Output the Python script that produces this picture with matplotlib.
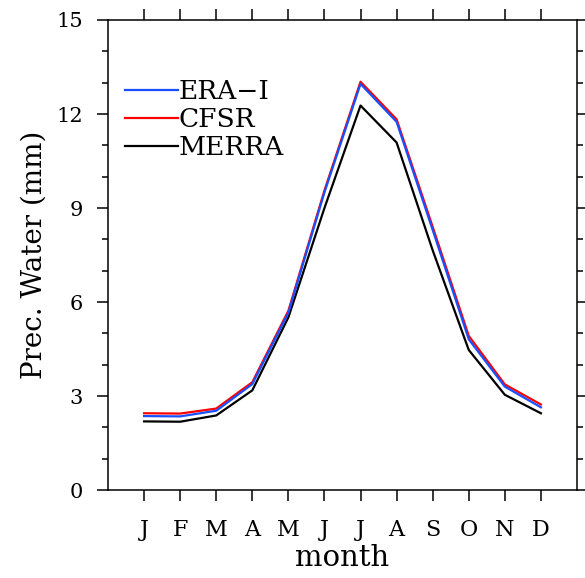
import numpy as np
import matplotlib
matplotlib.use("Agg")
import matplotlib.pyplot as plt
from matplotlib.ticker import MultipleLocator

months = ["J", "F", "M", "A", "M", "J", "J", "A", "S", "O", "N", "D"]
era_i = [2.36, 2.35, 2.53, 3.38, 5.66, 9.50, 12.96, 11.75, 8.30, 4.81, 3.30, 2.64]
cfsr = [2.45, 2.44, 2.60, 3.44, 5.72, 9.56, 13.03, 11.83, 8.40, 4.92, 3.37, 2.73]
merra = [2.19, 2.18, 2.38, 3.18, 5.51, 9.00, 12.27, 11.09, 7.65, 4.47, 3.04, 2.45]

plt.rcParams['font.family'] = ['DejaVu Serif']

fig = plt.figure(figsize=(5.85, 5.78), dpi=100)
ax = fig.add_axes([0.1846, 0.1522, 0.8017, 0.8132])

x = np.arange(1, 13)
ax.plot(x, era_i, color='#1a4fff', lw=1.6, label='ERA\u2212I', zorder=3)
ax.plot(x, cfsr, color='#ff0000', lw=1.6, label='CFSR', zorder=2)
ax.plot(x, merra, color='black', lw=1.6, label='MERRA', zorder=2)

ax.set_xlim(0, 13)
ax.set_ylim(0, 15)
ax.set_xticks(x)
ax.set_xticklabels(months)
ax.yaxis.set_major_locator(MultipleLocator(3))
ax.yaxis.set_minor_locator(MultipleLocator(1))

ax.tick_params(which='major', direction='out', length=8, width=1.1,
               top=True, right=True, labelsize=15, pad=10)
ax.tick_params(which='minor', direction='out', length=4.3, width=1.1,
               top=True, right=True)
ax.tick_params(axis='x', pad=13, labelsize=16)
for s in ax.spines.values():
    s.set_linewidth(1.1)

ax.set_xlabel('month', fontsize=21, labelpad=2)
ax.set_ylabel('Prec. Water (mm)', fontsize=20, labelpad=6)

ax.legend(loc='upper left', bbox_to_anchor=(0.036, 0.875), frameon=False,
          fontsize=19, handlelength=2.0, handletextpad=0.05,
          labelspacing=0.12, borderpad=0, borderaxespad=0)

fig.savefig('out.png', dpi=100)
